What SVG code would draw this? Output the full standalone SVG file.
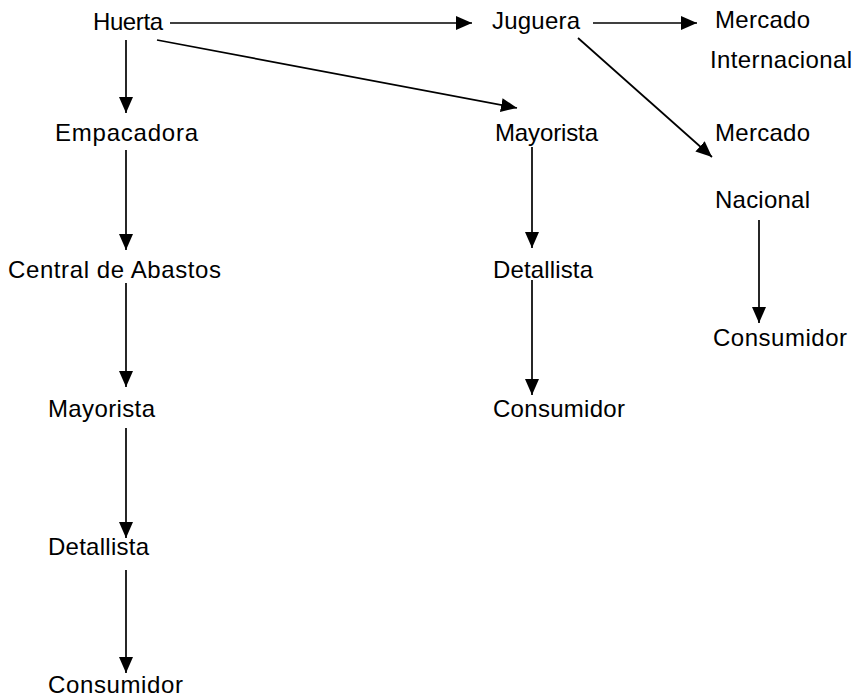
<svg xmlns="http://www.w3.org/2000/svg" width="859" height="699" viewBox="0 0 859 699">
<style>
text{font-family:"Liberation Sans",Arial,sans-serif;font-size:24px;fill:#000}
.c line{stroke:#000;stroke-width:1.7;fill:none}
</style>
<defs>
<marker id="ah" markerUnits="userSpaceOnUse" markerWidth="16" markerHeight="14" viewBox="0 0 16 14" refX="16" refY="7" orient="auto">
<path d="M0,0 L16,7 L0,14 z" fill="#000"/>
</marker>
</defs>
<rect width="859" height="699" fill="#fff"/>
<g id="n-huerta"><text x="93" y="30" textLength="70">Huerta</text></g>
<g id="n-juguera"><text x="492" y="29" textLength="88">Juguera</text></g>
<g id="n-mercado-int"><text x="715" y="28" textLength="95">Mercado</text><text x="710" y="68" textLength="142">Internacional</text></g>
<g id="n-empacadora"><text x="55" y="141" textLength="143">Empacadora</text></g>
<g id="n-mayorista-2"><text x="495" y="141" textLength="103">Mayorista</text></g>
<g id="n-mercado-nac"><text x="715" y="141" textLength="95">Mercado</text><text x="715" y="208" textLength="95">Nacional</text></g>
<g id="n-central"><text x="8" y="278" textLength="213">Central de Abastos</text></g>
<g id="n-detallista-2"><text x="493" y="278" textLength="100">Detallista</text></g>
<g id="n-consumidor-3"><text x="713" y="346" textLength="134">Consumidor</text></g>
<g id="n-mayorista-1"><text x="48" y="417" textLength="107">Mayorista</text></g>
<g id="n-consumidor-2"><text x="493" y="417" textLength="132">Consumidor</text></g>
<g id="n-detallista-1"><text x="48" y="555" textLength="101">Detallista</text></g>
<g id="n-consumidor-1"><text x="48" y="693" textLength="135">Consumidor</text></g>
<g id="connectors" class="c">
<line x1="126" y1="40" x2="126" y2="113" marker-end="url(#ah)"/>
<line x1="126" y1="150" x2="126" y2="250" marker-end="url(#ah)"/>
<line x1="126" y1="283" x2="126" y2="387" marker-end="url(#ah)"/>
<line x1="126" y1="428" x2="126" y2="538" marker-end="url(#ah)"/>
<line x1="126" y1="570" x2="126" y2="673" marker-end="url(#ah)"/>
<line x1="170" y1="23" x2="472" y2="23" marker-end="url(#ah)"/>
<line x1="157" y1="40" x2="517" y2="108" marker-end="url(#ah)"/>
<line x1="593" y1="23" x2="697" y2="23" marker-end="url(#ah)"/>
<line x1="578" y1="38" x2="712" y2="157" marker-end="url(#ah)"/>
<line x1="532" y1="147" x2="532" y2="248" marker-end="url(#ah)"/>
<line x1="532" y1="280" x2="532" y2="395" marker-end="url(#ah)"/>
<line x1="759" y1="220" x2="759" y2="323" marker-end="url(#ah)"/>
</g>
</svg>
